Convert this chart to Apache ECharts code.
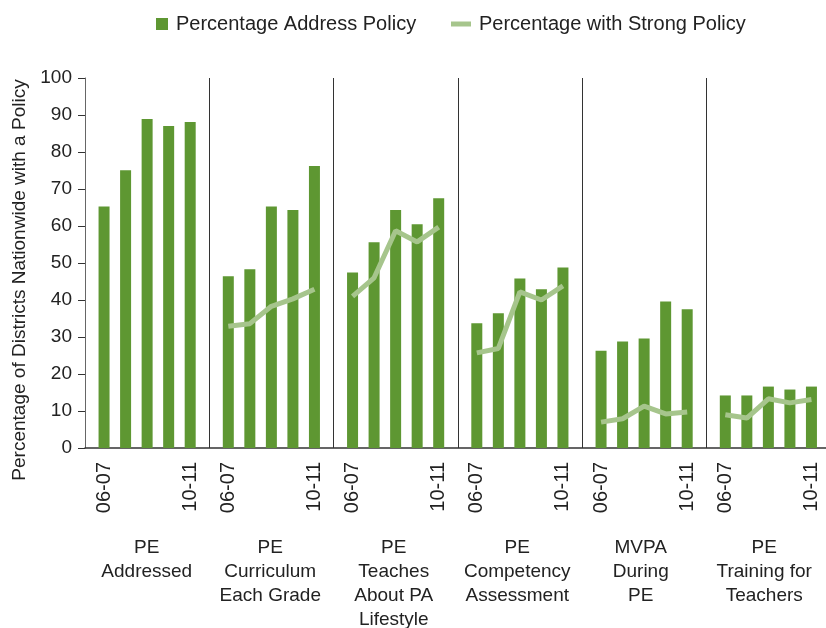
<!DOCTYPE html>
<html>
<head>
<meta charset="utf-8">
<script src="https://cdn.jsdelivr.net/npm/echarts@6/dist/echarts.min.js"></script>
<style>
  html, body { margin: 0; padding: 0; background: #fff; }
  #chart { width: 826px; height: 628px; }
</style>
</head>
<body>
<div id="chart"></div>
<script>
// 分组名称
var groups = [
    'PE\nAddressed',
    'PE\nCurriculum\nEach Grade',
    'PE\nTeaches\nAbout PA\nLifestyle',
    'PE\nCompetency\nAssessment',
    'MVPA\nDuring\nPE',
    'PE\nTraining for\nTeachers'
];
var years = ['06-07', '07-08', '08-09', '09-10', '10-11'];
var yTicks = [0, 10, 20, 30, 40, 50, 60, 70, 80, 90, 100];

// Percentage Address Policy
var addressPE = [65.3, 75.1, 88.9, 87.0, 88.1];
var addressCurriculum = [46.4, 48.3, 65.3, 64.3, 76.2];
var addressTeaches = [47.4, 55.6, 64.3, 60.5, 67.5];
var addressCompetency = [33.7, 36.4, 45.8, 42.9, 48.8];
var addressMVPA = [26.3, 28.8, 29.6, 39.6, 37.5];
var addressTraining = [14.2, 14.2, 16.6, 15.8, 16.6];

// Percentage with Strong Policy (first group has none)
var strongPE = [];
var strongCurriculum = [32.9, 33.6, 38.3, 40.3, 42.9];
var strongTeaches = [41.0, 46.0, 58.7, 55.7, 59.7];
var strongCompetency = [25.7, 26.9, 42.2, 40.0, 43.8];
var strongMVPA = [7.0, 7.9, 11.3, 9.2, 9.7];
var strongTraining = [9.0, 8.1, 13.3, 12.2, 13.1];

var address = [addressPE, addressCurriculum, addressTeaches, addressCompetency, addressMVPA, addressTraining];
var strong = [strongPE, strongCurriculum, strongTeaches, strongCompetency, strongMVPA, strongTraining];

// 每组宽度(以柱间距为单位)
var PAD = 0.885;
var W = PAD * 2 + years.length - 1;
function xPos(g, i) { return g * W + PAD + i; }

var barData = [];
var lineData = [];
var labelPos = [];
var seps = [];
address.forEach(function (vals, g) {
    vals.forEach(function (v, i) { barData.push([xPos(g, i), v]); });
    strong[g].forEach(function (v, i) { lineData.push([xPos(g, i), v]); });
    if (strong[g].length) lineData.push([(g + 1) * W, '-']);
    labelPos.push(xPos(g, 0), xPos(g, years.length - 1));
    if (g > 0) seps.push({xAxis: g * W});
});

var font = 'Liberation Sans, Arial, sans-serif';
var barColor = '#5e9732';
var lineColor = '#a6c58c';
var chart = echarts.init(document.getElementById('chart'));
chart.setOption({
    animation: false,
    textStyle: {fontFamily: font},
    legend: [{
        left: 151, top: 9,
        itemWidth: 12, itemHeight: 12,
        textStyle: {fontSize: 20, color: '#222', fontFamily: font, padding: [0, 0, 0, 3]},
        data: [{name: 'Percentage Address Policy', icon: 'rect'}]
    }, {
        left: 446, top: 9,
        itemWidth: 20, itemHeight: 5,
        textStyle: {fontSize: 20, color: '#222', fontFamily: font, padding: [0, 0, 0, 3]},
        data: [{name: 'Percentage with Strong Policy', icon: 'rect', itemStyle: {color: lineColor}}]
    }],
    grid: {left: 85, right: 0, top: 78, bottom: 180, outerBoundsMode: 'none'},
    xAxis: [{
        type: 'value',
        min: 0,
        max: 741 / (124.25 / W),
        axisLine: {lineStyle: {color: '#333', width: 1.5}},
        axisTick: {show: false},
        splitLine: {show: false},
        axisLabel: {
            customValues: labelPos,
            rotate: 90,
            margin: 14,
            fontSize: 20,
            color: '#222',
            formatter: function (val) {
                var k = labelPos.findIndex(function (p) { return Math.abs(p - val) < 1e-6; });
                return k < 0 ? '' : (k % 2 === 0 ? years[0] : years[years.length - 1]);
            }
        }
    }, {
        type: 'category',
        position: 'bottom',
        offset: 80,
        data: groups,
        axisLine: {show: false},
        axisTick: {show: false},
        axisLabel: {fontSize: 19, lineHeight: 24, color: '#222', interval: 0, margin: 8}
    }],
    yAxis: {
        type: 'value',
        min: yTicks[0],
        max: yTicks[yTicks.length - 1],
        interval: 10,
        name: 'Percentage of Districts Nationwide with a Policy',
        nameLocation: 'middle',
        nameGap: 56,
        nameTextStyle: {fontSize: 19, color: '#222', padding: [0, 34, 0, 0]},
        axisLine: {show: true, lineStyle: {color: '#666'}},
        axisTick: {show: true, length: 7, lineStyle: {color: '#333'}},
        splitLine: {show: false},
        axisLabel: {fontSize: 19, color: '#222', margin: 13}
    },
    series: [{
        name: 'Percentage Address Policy',
        type: 'bar',
        xAxisIndex: 0,
        barWidth: 11,
        itemStyle: {color: barColor},
        data: barData,
        markLine: {
            silent: true,
            symbol: 'none',
            label: {show: false},
            lineStyle: {color: '#333', width: 1, type: 'solid'},
            data: seps
        }
    }, {
        name: 'Percentage with Strong Policy',
        type: 'line',
        xAxisIndex: 0,
        symbol: 'none',
        connectNulls: false,
        lineStyle: {color: lineColor, width: 5},
        itemStyle: {color: lineColor},
        data: lineData
    }]
});
</script>
</body>
</html>
